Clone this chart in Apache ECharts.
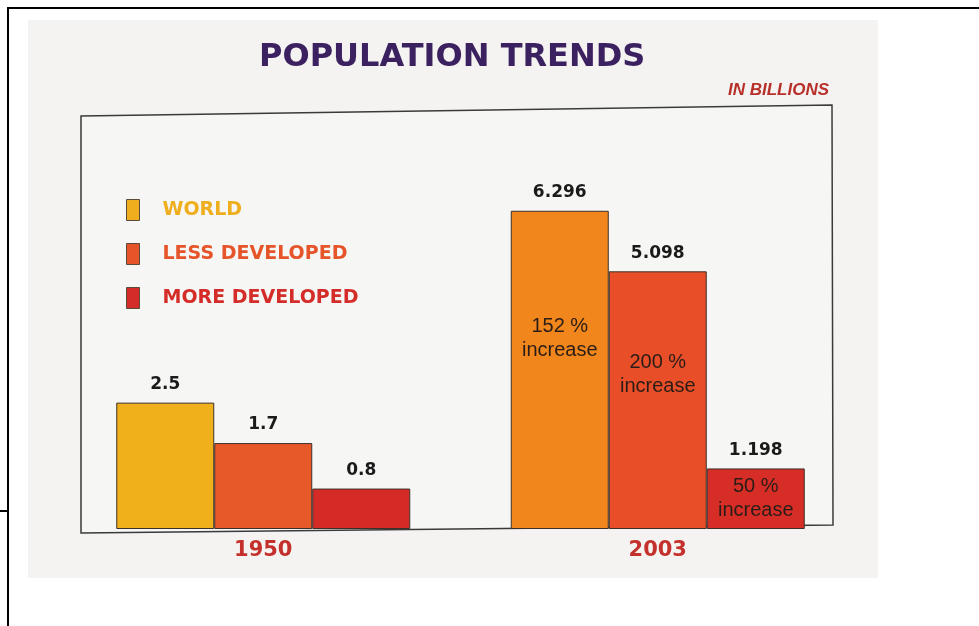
<!DOCTYPE html>
<html>
<head>
<meta charset="utf-8">
<script src="https://cdn.jsdelivr.net/npm/echarts@6/dist/echarts.min.js"></script>
<style>
html,body{margin:0;padding:0;background:#fff;}
#c{width:979px;height:626px;}
</style>
</head>
<body>
<div id="c"></div>
<script>
// ---- data ----
const years = ['1950', '2003'];
const seriesNames = ['WORLD', 'LESS DEVELOPED', 'MORE DEVELOPED'];
const worldValues = [2.5, 6.296];
const lessDevelopedValues = [1.7, 5.098];
const moreDevelopedValues = [0.8, 1.198];
const worldNotes = ['', '152 %\nincrease'];
const lessDevelopedNotes = ['', '200 %\nincrease'];
const moreDevelopedNotes = ['', '50 %\nincrease'];
const titleText = 'POPULATION TRENDS';
const unitText = 'IN BILLIONS';

// ---- styles ----
const legendColors = ['#eeae1e', '#e65429', '#d42c28'];
const barColors = [
  ['#efb01c', '#f0861c'],
  ['#e8592a', '#e84e27'],
  ['#d52b27', '#d62e27']
];
const notePos = [['50%', '40%'], ['50%', '40%'], ['50%', '50%']];
const BOLD = '"DejaVu Sans", sans-serif';

const chart = echarts.init(document.getElementById('c'), null, {renderer: 'canvas'});

function makeSeries(idx, values, notes) {
  return {
    name: seriesNames[idx],
    type: 'bar',
    barWidth: 98,
    barGap: '0%',
    itemStyle: {color: legendColors[idx], borderColor: '#3e3028', borderWidth: 1},
    data: values.map((v, j) => ({
      value: v,
      itemStyle: {color: barColors[idx][j]},
      label: notes[j] ? {
        show: true,
        position: notePos[idx],
        align: 'center',
        verticalAlign: 'middle',
        formatter: notes[j],
        color: '#2a1d17',
        fontFamily: '"Liberation Sans", Arial, sans-serif',
        fontSize: 20,
        lineHeight: 24
      } : {show: false}
    })),
    markPoint: {
      symbol: 'circle',
      symbolSize: 1,
      itemStyle: {color: 'rgba(0,0,0,0)'},
      label: {
        show: true,
        position: 'top',
        distance: 9,
        formatter: p => String(p.value),
        color: '#1a1a1a',
        fontFamily: BOLD,
        fontWeight: 'bold',
        fontSize: 17
      },
      data: values.map((v, j) => ({coord: [years[j], v], value: v}))
    }
  };
}

const option = {
  animation: false,
  backgroundColor: '#ffffff',
  graphic: [
    {type: 'rect', z: -10, shape: {x: 28, y: 20, width: 850, height: 558}, style: {fill: '#f4f3f1'}},
    {type: 'polyline', z: -9, shape: {points: [[8, 626], [8, 8], [979, 8]]}, style: {stroke: '#000', lineWidth: 2, fill: null}},
    {type: 'line', z: -9, shape: {x1: 0, y1: 511, x2: 8, y2: 511}, style: {stroke: '#000', lineWidth: 2}},
    {type: 'polygon', z: -8, shape: {points: [[81, 116], [832, 105], [833, 525], [81, 533]]}, style: {stroke: '#3a3a3a', lineWidth: 1.5, fill: '#f6f6f4'}}
  ],
  title: [
    {
      text: titleText,
      left: 259, top: 42, padding: 0,
      textStyle: {color: '#3b2160', fontFamily: BOLD, fontWeight: 'bold', fontSize: 32}
    },
    {
      text: unitText,
      right: 150, top: 82, padding: 0,
      textStyle: {color: '#b8302a', fontFamily: '"Liberation Sans", sans-serif', fontWeight: 'bold', fontStyle: 'italic', fontSize: 17}
    }
  ],
  legend: {
    orient: 'vertical',
    left: 126,
    top: 199,
    padding: 0,
    icon: 'rect',
    itemWidth: 13,
    itemHeight: 21,
    itemGap: 22,
    selectedMode: false,
    itemStyle: {borderColor: '#5a4a3a', borderWidth: 1},
    textStyle: {fontFamily: BOLD, fontWeight: 'bold', fontSize: 19, padding: [0, 0, 0, 18]},
    data: seriesNames.map((n, i) => ({name: n, textStyle: {color: legendColors[i]}}))
  },
  grid: {left: 66, width: 789, top: 112, bottom: 97, containLabel: false},
  xAxis: {
    type: 'category',
    data: years,
    axisLine: {show: false},
    axisTick: {show: false},
    axisLabel: {color: '#c4302b', fontFamily: BOLD, fontWeight: 'bold', fontSize: 21, margin: 11}
  },
  yAxis: {
    type: 'value',
    min: 0,
    max: 8.25,
    show: false,
    splitLine: {show: false}
  },
  series: [
    makeSeries(0, worldValues, worldNotes),
    makeSeries(1, lessDevelopedValues, lessDevelopedNotes),
    makeSeries(2, moreDevelopedValues, moreDevelopedNotes)
  ]
};
chart.setOption(option);
</script>
</body>
</html>
